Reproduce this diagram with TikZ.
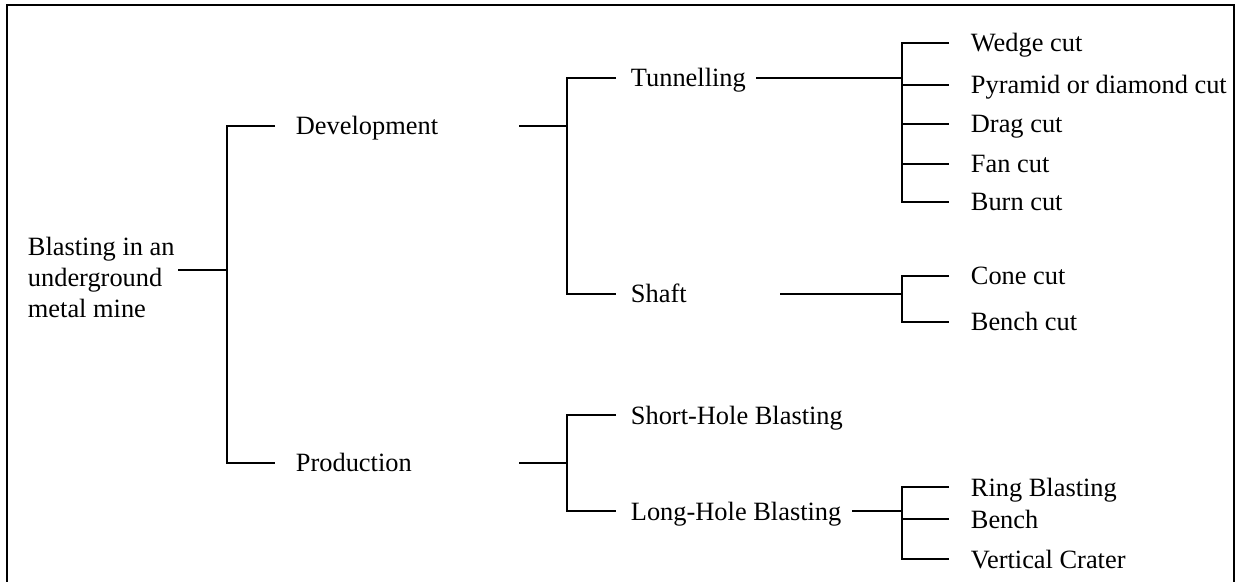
\documentclass[tikz,border=0pt]{standalone}
\usepackage{fontspec}
\setmainfont{Liberation Serif}

\begin{document}
\begin{tikzpicture}[x=0.5pt,y=-0.5pt,line width=0.9pt,
  txt/.style={anchor=west,inner ysep=0pt,text height=11pt,text depth=2pt,font=\fontsize{13.2}{15.25}\selectfont},
  lvla/.style={txt,inner xsep=10pt},
  lvlb/.style={txt,inner xsep=7pt},
  lvlc/.style={txt,inner xsep=10.5pt},
  rootbox/.style={anchor=west,align=left,inner ysep=0pt,inner xsep=1.5pt,font=\fontsize{13.2}{15.5}\selectfont}]

\useasboundingbox (0,0) rectangle (1242,582);

% frame, open at the bottom
\draw[line width=1.1pt] (7,600) -- (7,5) -- (1234,5) -- (1234,600);

\node[rootbox] (root) at (24,277.5) {Blasting in an\\underground\\metal mine};

\coordinate (mainj) at (227,270);
\coordinate (devj) at (567,126);
\coordinate (devout) at (519,126);
\coordinate (prodj) at (567,463);
\coordinate (prodout) at (519,463);
\coordinate (tunj) at (902,78);
\coordinate (tunout) at (756,78);
\coordinate (shaftj) at (902,294);
\coordinate (shaftout) at (780,294);
\coordinate (longj) at (902,511);
\coordinate (longout) at (852,511);

\node[lvla] (dev) at (275,126) {Development};
\node[lvla] (prod) at (275,463) {Production};

\node[lvlb] (tun) at (616,78) {Tunnelling};
\node[lvlb] (shaft) at (616,294) {Shaft};
\node[lvlb] (short) at (616,415) {Short-Hole Blasting};
\node[lvlb] (long) at (616,511) {Long-Hole Blasting};

\node[lvlc] (wedge) at (949,43) {Wedge cut};
\node[lvlc] (pyramid) at (949,85) {Pyramid or diamond cut};
\node[lvlc] (drag) at (949,124) {Drag cut};
\node[lvlc] (fan) at (949,164) {Fan cut};
\node[lvlc] (burn) at (949,202) {Burn cut};
\node[lvlc] (cone) at (949,276) {Cone cut};
\node[lvlc] (benchcut) at (949,322) {Bench cut};
\node[lvlc] (ring) at (949,487) {Ring Blasting};
\node[lvlc] (bench) at (949,519) {Bench};
\node[lvlc] (vertical) at (949,559) {Vertical Crater};

\draw (root.east |- mainj) -- (mainj);
\draw (dev) -| (mainj) |- (prod);

\draw (devout) -- (devj);
\draw (tun) -| (devj) |- (shaft);
\draw (prodout) -- (prodj);
\draw (short) -| (prodj) |- (long);

\draw (tunout) -- (tunj);
\draw (wedge) -| (tunj) |- (burn);
\draw (tunj) |- (pyramid);
\draw (tunj) |- (drag);
\draw (tunj) |- (fan);

\draw (shaftout) -- (shaftj);
\draw (cone) -| (shaftj) |- (benchcut);

\draw (longout) -- (longj);
\draw (ring) -| (longj) |- (vertical);
\draw (longj) |- (bench);

\end{tikzpicture}
\end{document}
